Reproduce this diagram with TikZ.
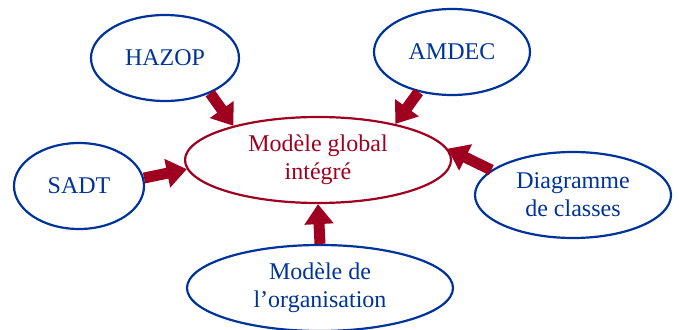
\documentclass[tikz,border=0pt]{standalone}
\usepackage{fontspec}
\setmainfont{Liberation Serif}
\usetikzlibrary{shapes.geometric,arrows.meta}
\definecolor{dblue}{RGB}{0,51,153}
\definecolor{dred}{RGB}{160,0,32}

\begin{document}
\begin{tikzpicture}[x=1pt,y=-1pt,
  bulle/.style={ellipse, draw=dblue, line width=2.2pt, text=dblue, inner sep=0pt,
    minimum height=86pt, align=center, font=\fontsize{24}{28}\selectfont},
  fl/.style={-{Triangle[width=28pt,length=20pt]}, draw=dred, line width=11pt}]
\useasboundingbox (0,0) rectangle (679,329);
\node[bulle, draw=dred, text=dred, minimum width=266pt] (M) at (318,160) {Modèle global\\intégré};
\node[bulle, minimum width=148pt] (H) at (165,58) {HAZOP};
\node[bulle, minimum width=156pt] (A) at (452,52) {AMDEC};
\node[bulle, minimum width=130pt] (S) at (79,186) {SADT};
\node[bulle, minimum width=196pt] (D) at (573,195) {Diagramme\\de classes};
\node[bulle, minimum width=266pt] (O) at (320,288) {Modèle de\\l’organisation};
\draw[fl] (H.-38) -- (M.158);
\draw[fl] (A.230) -- (M.25);
\draw[fl] (D.163) -- (M.5);
\draw[fl] (S.7) -- (M.184);
\draw[fl] (O.north) -- (M.south);
\end{tikzpicture}
\end{document}
